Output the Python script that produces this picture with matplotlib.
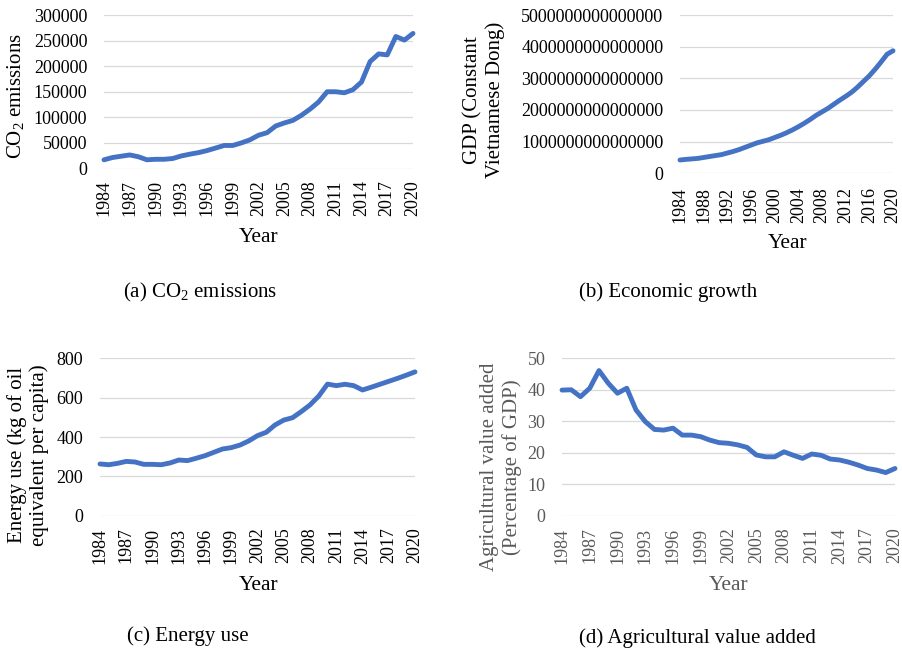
import matplotlib
matplotlib.use('Agg')
import matplotlib.pyplot as plt
from matplotlib.ticker import MultipleLocator, FuncFormatter

plt.rcParams['font.family'] = ['Liberation Serif', 'DejaVu Serif']
plt.rcParams['mathtext.fontset'] = 'custom'
plt.rcParams['mathtext.rm'] = 'Liberation Serif'

years = list(range(1984, 2021))

co2 = [17000, 21500, 24000, 26500, 23000, 17000, 18000, 18000, 19500, 24500,
       28000, 31000, 35000, 40000, 45000, 45000, 50000, 56000, 65000, 70000,
       83000, 89000, 94000, 104000, 116000, 130000, 150000, 150000, 148000, 154000,
       169000, 209000, 224000, 222000, 258000, 251000, 264000]

# GDP in units of 1e15 constant VND
gdp = [0.42, 0.44, 0.455, 0.47, 0.50, 0.53, 0.56, 0.59, 0.64, 0.69,
       0.75, 0.82, 0.89, 0.96, 1.01, 1.06, 1.13, 1.20, 1.28, 1.37,
       1.47, 1.58, 1.70, 1.83, 1.94, 2.05, 2.18, 2.31, 2.43, 2.56,
       2.72, 2.90, 3.08, 3.29, 3.52, 3.76, 3.87]

energy = [263, 259, 266, 276, 273, 261, 261, 259, 268, 283,
          280, 292, 305, 322, 339, 346, 359, 380, 407, 424,
          461, 486, 498, 529, 563, 608, 669, 661, 668, 661,
          639, 653, 668, 683, 698, 714, 731]

agri = [39.9, 40.0, 37.8, 40.5, 46.1, 42.1, 38.9, 40.5, 33.6, 29.9,
        27.4, 27.2, 27.8, 25.6, 25.6, 25.1, 24.0, 23.2, 23.0, 22.5,
        21.7, 19.3, 18.7, 18.7, 20.3, 19.2, 18.2, 19.6, 19.2, 18.0,
        17.7, 17.0, 16.1, 15.0, 14.5, 13.7, 15.0]

W, H = 902, 655
LINE = '#4472C4'
GRID = '#D9D9D9'
GRAY = '#595959'

fig = plt.figure(figsize=(W / 100, H / 100), dpi=100)


def make_ax(left, right, top, bottom):
    return fig.add_axes([left / W, (H - bottom) / H, (right - left) / W, (bottom - top) / H])


def style(ax, x, y, ymax, ystep, xstep, color='black', xpad=8.5):
    ax.plot(x, y, color=LINE, lw=3.5, solid_joinstyle='round', solid_capstyle='round',
            clip_on=False, zorder=3)
    ax.set_xlim(1984, 2020)
    ax.set_ylim(0, ymax)
    ax.yaxis.set_major_locator(MultipleLocator(ystep))
    ax.set_xticks(list(range(1984, 2021, xstep)))
    ax.yaxis.set_major_formatter(FuncFormatter(lambda v, p: f'{int(round(v))}'))
    ax.grid(axis='y', color=GRID, lw=0.9)
    ax.set_axisbelow(True)
    for s in ax.spines.values():
        s.set_visible(False)
    ax.tick_params(axis='both', length=0, labelsize=13, colors=color)
    ax.tick_params(axis='y', pad=12)
    ax.tick_params(axis='x', pad=xpad, labelrotation=90)


def label(x, y, s, size=15.5, rot=0, color='black'):
    fig.text(x / W, (H - y) / H, s, fontsize=size, rotation=rot, color=color,
             ha='center', va='center', multialignment='center')


# (a) CO2 emissions
ax1 = make_ax(104, 413, 15, 168.5)
style(ax1, years, co2, 300000, 50000, 3)
label(16, 96, 'CO$_\\mathregular{2}$ emissions', size=15, rot=90)
label(259, 238, 'Year')
label(200, 292, '(a) CO$_\\mathregular{2}$ emissions', size=15)

# (b) Economic growth
ax2 = make_ax(680, 893, 15, 173.3)
style(ax2, years, [g * 1e15 for g in gdp], 5e15, 1e15, 4, xpad=10)
label(484, 100, 'GDP (Constant\nVietnamese Dong)', size=15, rot=90)
label(788, 243, 'Year')
label(668, 292, '(b) Economic growth', size=15)

# (c) Energy use
ax3 = make_ax(100, 415, 358.3, 515.7)
style(ax3, years, energy, 800, 200, 3)
label(28, 455, 'Energy use (kg of oil\nequivalent per capita)', size=15, rot=90)
label(259, 585, 'Year')
label(188, 636, '(c) Energy use', size=15)

# (d) Agricultural value added
ax4 = make_ax(562, 895, 358.3, 515.7)
style(ax4, years, agri, 50, 10, 3, color=GRAY)
label(501, 467, 'Agricultural value added\n(Percentage of GDP)', size=15, rot=90, color=GRAY)
label(729, 585, 'Year', color=GRAY)
label(697, 638, '(d) Agricultural value added', size=15)

fig.savefig('out.png', dpi=100)
